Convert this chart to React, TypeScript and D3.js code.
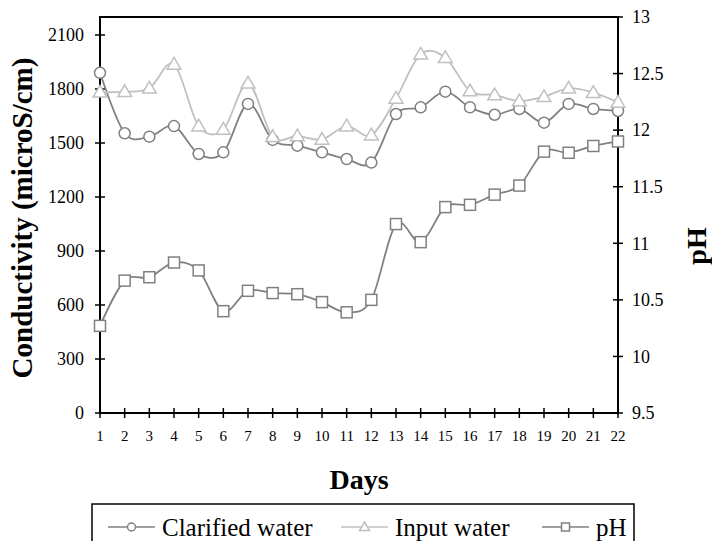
import React, { useEffect, useRef } from 'react';
import * as d3 from 'd3';

// Data
const days = [1, 2, 3, 4, 5, 6, 7, 8, 9, 10, 11, 12, 13, 14, 15, 16, 17, 18, 19, 20, 21, 22];
const clarifiedWater = [1890, 1554, 1535, 1594, 1439, 1448, 1717, 1517, 1485, 1448, 1411, 1391, 1661, 1698, 1785, 1698, 1657, 1689, 1613, 1717, 1689, 1678];
const inputWater = [1782, 1785, 1804, 1937, 1594, 1576, 1832, 1535, 1539, 1520, 1594, 1544, 1748, 1993, 1974, 1789, 1767, 1733, 1757, 1804, 1780, 1726];
const phValues = [10.27, 10.67, 10.7, 10.83, 10.76, 10.4, 10.58, 10.56, 10.55, 10.48, 10.39, 10.5, 11.17, 11.01, 11.32, 11.34, 11.43, 11.51, 11.81, 11.8, 11.86, 11.9];
const leftTicks = [0, 300, 600, 900, 1200, 1500, 1800, 2100];
const rightTicks = [9.5, 10, 10.5, 11, 11.5, 12, 12.5, 13];

const App = () => {
  const ref = useRef<SVGSVGElement>(null);

  useEffect(() => {
    const width = 712;
    const height = 541;
    const left = 100, right = 618, top = 17, bottom = 413;
    const font = '"Liberation Serif", "Times New Roman", serif';

    const x = d3.scaleLinear().domain([1, 22]).range([left, right]);
    const yL = d3.scaleLinear().domain([0, 2200]).range([bottom, top]);
    const yR = d3.scaleLinear().domain([9.5, 13]).range([bottom, top]);

    const svg = d3.select(ref.current);
    svg.selectAll('*').remove();
    svg.attr('width', width).attr('height', height);

    svg.append('rect').attr('width', width).attr('height', height).attr('fill', '#fff');

    // frame
    svg.append('rect')
      .attr('x', left).attr('y', top)
      .attr('width', right - left).attr('height', bottom - top)
      .attr('fill', 'none').attr('stroke', '#000').attr('stroke-width', 2);

    // left axis ticks
    const lt = svg.append('g');
    lt.selectAll('line').data(leftTicks).enter().append('line')
      .attr('x1', left - 5).attr('x2', left + 5)
      .attr('y1', d => yL(d)).attr('y2', d => yL(d))
      .attr('stroke', '#000').attr('stroke-width', 1.5);
    lt.selectAll('text').data(leftTicks).enter().append('text')
      .attr('x', left - 16).attr('y', d => yL(d))
      .attr('dy', '0.35em').attr('text-anchor', 'end')
      .style('font-family', font).style('font-size', '18px')
      .text(d => d);

    // right axis ticks
    const rt = svg.append('g');
    rt.selectAll('line').data(rightTicks).enter().append('line')
      .attr('x1', right - 5).attr('x2', right + 5)
      .attr('y1', d => yR(d)).attr('y2', d => yR(d))
      .attr('stroke', '#000').attr('stroke-width', 1.5);
    rt.selectAll('text').data(rightTicks).enter().append('text')
      .attr('x', right + 14).attr('y', d => yR(d))
      .attr('dy', '0.35em').attr('text-anchor', 'start')
      .style('font-family', font).style('font-size', '18px')
      .text(d => d);

    // bottom ticks
    const bt = svg.append('g');
    bt.selectAll('line').data(days).enter().append('line')
      .attr('x1', d => x(d)).attr('x2', d => x(d))
      .attr('y1', bottom - 5).attr('y2', bottom + 5)
      .attr('stroke', '#000').attr('stroke-width', 1.5);
    bt.selectAll('text').data(days).enter().append('text')
      .attr('x', d => x(d)).attr('y', bottom + 28)
      .attr('text-anchor', 'middle')
      .style('font-family', font).style('font-size', '15px')
      .text(d => d);

    // axis titles
    svg.append('text')
      .attr('transform', `translate(32,218) rotate(-90)`)
      .attr('text-anchor', 'middle')
      .style('font-family', font).style('font-size', '29px').style('font-weight', 'bold')
      .text('Conductivity (microS/cm)');
    svg.append('text')
      .attr('transform', `translate(706,246) rotate(-90)`)
      .attr('text-anchor', 'middle')
      .style('font-family', font).style('font-size', '28px').style('font-weight', 'bold')
      .text('pH');
    svg.append('text')
      .attr('x', (left + right) / 2).attr('y', 489)
      .attr('text-anchor', 'middle')
      .style('font-family', font).style('font-size', '28px').style('font-weight', 'bold')
      .text('Days');

    const curve = d3.curveCardinal.tension(0);

    const series = [
      { name: 'Clarified water', values: clarifiedWater, y: yL, color: '#808080', shape: 'circle' },
      { name: 'Input water', values: inputWater, y: yL, color: '#c0c0c0', shape: 'triangle' },
      { name: 'pH', values: phValues, y: yR, color: '#808080', shape: 'square' }
    ];

    const drawMarker = (g, shape, cx, cy, color, size) => {
      if (shape === 'circle') {
        g.append('circle').attr('cx', cx).attr('cy', cy).attr('r', size)
          .attr('fill', '#fff').attr('stroke', color).attr('stroke-width', 1.5);
      } else if (shape === 'square') {
        g.append('rect').attr('x', cx - size).attr('y', cy - size)
          .attr('width', size * 2).attr('height', size * 2)
          .attr('fill', '#fff').attr('stroke', color).attr('stroke-width', 1.5);
      } else {
        const s = size * 1.25;
        g.append('path')
          .attr('d', `M${cx},${cy - s}L${cx + s},${cy + s * 0.7}L${cx - s},${cy + s * 0.7}Z`)
          .attr('fill', '#fff').attr('stroke', color).attr('stroke-width', 1.5);
      }
    };

    series.forEach(s => {
      const g = svg.append('g');
      const line = d3.line<number>()
        .x((d, i) => x(days[i]))
        .y(d => s.y(d))
        .curve(curve);
      g.append('path')
        .attr('d', line(s.values))
        .attr('fill', 'none').attr('stroke', s.color).attr('stroke-width', 1.8);
      s.values.forEach((v, i) => drawMarker(g, s.shape, x(days[i]), s.y(v), s.color, 5.5));
    });

    // legend
    const lg = svg.append('g');
    lg.append('rect')
      .attr('x', 92).attr('y', 504).attr('width', 542).attr('height', 50)
      .attr('fill', 'none').attr('stroke', '#000').attr('stroke-width', 1.5);
    const legendX = [108, 341, 542];
    series.forEach((s, i) => {
      const lx = legendX[i];
      const ly = 527;
      lg.append('line').attr('x1', lx).attr('x2', lx + 47).attr('y1', ly).attr('y2', ly)
        .attr('stroke', s.color).attr('stroke-width', 1.5);
      drawMarker(lg, s.shape, lx + 23.5, ly, s.color, 4);
      lg.append('text')
        .attr('x', lx + 54).attr('y', ly).attr('dy', '0.35em')
        .style('font-family', font).style('font-size', '25px')
        .text(s.name);
    });
  }, []);

  return (
    <svg ref={ref} width={712} height={541} style={{ position: 'absolute', left: 0, top: 0 }}></svg>
  );
};

export default App;
